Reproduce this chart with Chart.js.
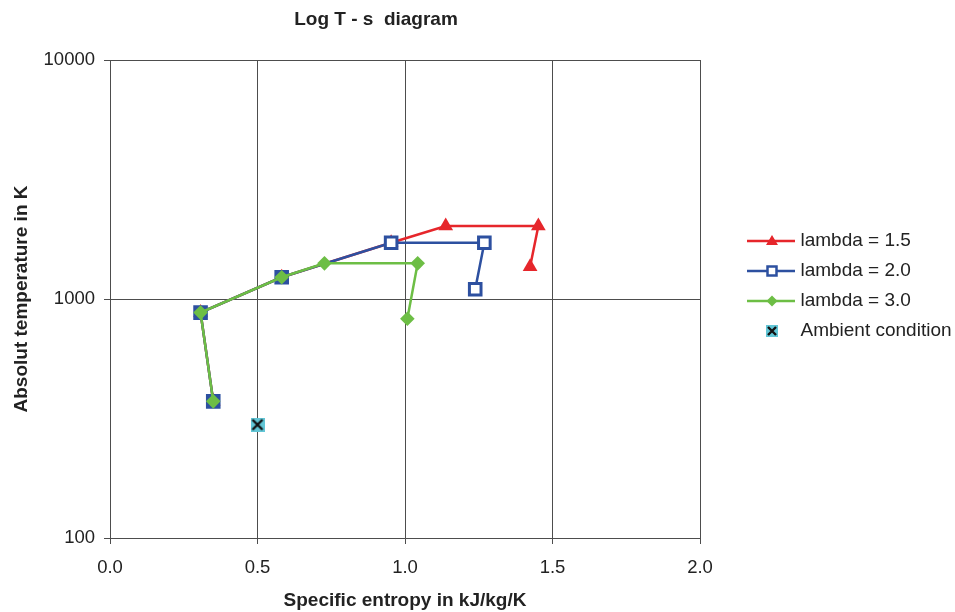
<!DOCTYPE html>
<html>
<head>
<meta charset="utf-8">
<title>Log T - s diagram</title>
<script src="https://cdn.jsdelivr.net/npm/chart.js@4.4.1/dist/chart.umd.min.js"></script>
<style>
    body { margin: 0; background: #fff; }
    #wrap { width: 955px; height: 612px; }
</style>
</head>
<body>
<div id="wrap"><canvas id="chart" width="955" height="612"></canvas></div>
<script>
// ---- data: specific entropy s (kJ/kg/K) and absolute temperature T (K) ----
const seriesNames = ["lambda = 1.5", "lambda = 2.0", "lambda = 3.0", "Ambient condition"];

const lambda15S = [0.350, 0.307, 0.582, 0.953, 1.138, 1.452, 1.424];
const lambda15T = [373, 877, 1233, 1720, 2020, 2020, 1366];

const lambda20S = [0.350, 0.307, 0.582, 0.953, 1.269, 1.238];
const lambda20T = [373, 877, 1233, 1720, 1720, 1098];

const lambda30S = [0.350, 0.307, 0.582, 0.727, 1.043, 1.008];
const lambda30T = [373, 877, 1233, 1410, 1410, 827];

const ambientS = [0.5];
const ambientT = [298];

const xTicks = [0, 0.5, 1.0, 1.5, 2.0];
const yTicks = [100, 1000, 10000];

const titleText = "Log T - s  diagram";

// ---- colours ----
const RED = "#e6262b";
const BLUE = "#2d50a0";
const GREEN = "#6dbe45";
const CYAN = "#62c6d6";
const FONT = "'Liberation Sans', Arial, sans-serif";

function toPoints(xs, ys) {
    return xs.map((x, i) => ({ x: x, y: ys[i] }));
}

// marker for the ambient point: cyan square with a black cross
function ambientMarker(size) {
    const c = document.createElement("canvas");
    c.width = size; c.height = size;
    const g = c.getContext("2d");
    g.fillStyle = CYAN;
    g.fillRect(0, 0, size, size);
    g.strokeStyle = "#111";
    g.lineWidth = 2.4;
    const a = 2, b = size - 2;
    g.beginPath();
    g.moveTo(a, a); g.lineTo(b, b);
    g.moveTo(b, a); g.lineTo(a, b);
    g.stroke();
    return c;
}
const ambientImg = ambientMarker(14);
const ambientSmall = ambientMarker(12);

// legend icons: line with marker, Excel style
function legendIcon(kind, color) {
    const c = document.createElement("canvas");
    c.width = 88; c.height = 20;
    const g = c.getContext("2d");
    const mx = 65, my = 10;
    if (kind !== "ambient") {
        g.strokeStyle = color;
        g.lineWidth = 2.5;
        g.beginPath();
        g.moveTo(40, my); g.lineTo(90, my);
        g.stroke();
    }
    if (kind === "triangle") {
        g.fillStyle = color;
        g.beginPath();
        g.moveTo(mx, my - 6);
        g.lineTo(mx + 6, my + 4);
        g.lineTo(mx - 6, my + 4);
        g.closePath();
        g.fill();
    } else if (kind === "square") {
        g.fillStyle = "#fff";
        g.strokeStyle = color;
        g.lineWidth = 2.5;
        g.fillRect(mx - 4.5, my - 4.5, 9, 9);
        g.strokeRect(mx - 4.5, my - 4.5, 9, 9);
    } else if (kind === "diamond") {
        g.fillStyle = color;
        g.beginPath();
        g.moveTo(mx, my - 5.5); g.lineTo(mx + 5.5, my);
        g.lineTo(mx, my + 5.5); g.lineTo(mx - 5.5, my);
        g.closePath();
        g.fill();
    } else {
        g.drawImage(ambientSmall, mx - 6, my - 6);
    }
    return c;
}
const icons = [
    legendIcon("triangle", RED),
    legendIcon("square", BLUE),
    legendIcon("diamond", GREEN),
    legendIcon("ambient", CYAN)
];
const blank = document.createElement("canvas");
blank.width = 1; blank.height = 1;

// ---- title + legend box tweak ----
const titlePlugin = {
    id: "titleText",
    afterLayout(chart) {
        // let the legend use the full right margin so the long label is not clipped
        const lg = chart.legend;
        if (lg) {
            lg.right = chart.width;
            lg.width = lg.right - lg.left;
            lg.top += 2;
            lg.bottom += 2;
        }
    },
    afterDraw(chart) {
        const c = chart.ctx;
        c.save();
        c.font = "bold 19px " + FONT;
        c.fillStyle = "#222";
        c.textAlign = "center";
        c.textBaseline = "middle";
        c.fillText(titleText, 376, 20);
        c.restore();
    }
};

const ctx = document.getElementById("chart").getContext("2d");
const chart = new Chart(ctx, {
    type: "scatter",
    data: {
        datasets: [{
            label: seriesNames[0],
            data: toPoints(lambda15S, lambda15T),
            showLine: true,
            borderColor: RED,
            borderWidth: 2.5,
            pointStyle: "triangle",
            pointRadius: 8.5,
            pointBackgroundColor: RED,
            pointBorderColor: RED,
            pointBorderWidth: 0,
            order: 3
        }, {
            label: seriesNames[1],
            data: toPoints(lambda20S, lambda20T),
            showLine: true,
            borderColor: BLUE,
            borderWidth: 2.5,
            pointStyle: "rect",
            pointRadius: 8.2,
            pointBackgroundColor: [BLUE, BLUE, BLUE, "#fff", "#fff", "#fff"],
            pointBorderColor: BLUE,
            pointBorderWidth: 3,
            order: 2
        }, {
            label: seriesNames[2],
            data: toPoints(lambda30S, lambda30T),
            showLine: true,
            borderColor: GREEN,
            borderWidth: 2.5,
            pointStyle: "rectRot",
            pointRadius: 7.3,
            pointBackgroundColor: GREEN,
            pointBorderColor: GREEN,
            pointBorderWidth: 0,
            order: 1
        }, {
            label: seriesNames[3],
            data: toPoints(ambientS, ambientT),
            showLine: false,
            pointStyle: ambientImg,
            order: 0
        }]
    },
    options: {
        responsive: false,
        animation: false,
        events: [],
        layout: {
            padding: { top: 60, left: 6, right: 55, bottom: 0 }
        },
        plugins: {
            title: { display: false },
            tooltip: { enabled: false },
            legend: {
                position: "right",
                fullSize: false,
                maxWidth: 200,
                onClick: function () {},
                labels: {
                    usePointStyle: true,
                    pointStyleWidth: 80,
                    padding: 11,
                    color: "#222",
                    font: { family: FONT, size: 19 },
                    generateLabels: function () {
                        const items = seriesNames.map((name, i) => ({
                            text: name,
                            pointStyle: icons[i],
                            fillStyle: "transparent",
                            strokeStyle: "transparent",
                            lineWidth: 0,
                            hidden: false,
                            datasetIndex: i,
                            fontColor: "#222"
                        }));
                        // empty row so the four entries sit a bit higher, as in the original
                        items.push({
                            text: "",
                            pointStyle: blank,
                            fillStyle: "transparent",
                            strokeStyle: "transparent",
                            lineWidth: 0,
                            hidden: false,
                            fontColor: "#222"
                        });
                        return items;
                    }
                }
            }
        },
        scales: {
            x: {
                type: "linear",
                min: 0,
                max: 2,
                afterBuildTicks: axis => { axis.ticks = xTicks.map(v => ({ value: v })); },
                afterFit: axis => { axis.height = 74; },
                ticks: {
                    padding: 13,
                    color: "#222",
                    font: { family: FONT, size: 18.5 },
                    callback: v => Number(v).toFixed(1)
                },
                grid: { color: "#4d4d4d", tickColor: "#4d4d4d", tickLength: 6, lineWidth: 1 },
                border: { color: "#4d4d4d" },
                title: {
                    display: true,
                    text: "Specific entropy in kJ/kg/K",
                    color: "#222",
                    font: { family: FONT, size: 19, weight: "bold" },
                    padding: { top: 0, bottom: 0 }
                }
            },
            y: {
                type: "logarithmic",
                min: 100,
                max: 10000,
                afterBuildTicks: axis => { axis.ticks = yTicks.map(v => ({ value: v })); },
                afterFit: axis => { axis.width = 104; },
                ticks: {
                    padding: 9,
                    color: "#222",
                    font: { family: FONT, size: 18.5 },
                    callback: v => String(v)
                },
                grid: { color: "#4d4d4d", tickColor: "#4d4d4d", tickLength: 6, lineWidth: 1 },
                border: { color: "#4d4d4d" },
                title: {
                    display: true,
                    text: "Absolut temperature in K",
                    color: "#222",
                    font: { family: FONT, size: 19, weight: "bold" },
                    padding: { top: 4.6, bottom: 0 }
                }
            }
        }
    },
    plugins: [titlePlugin]
});
</script>
</body>
</html>
